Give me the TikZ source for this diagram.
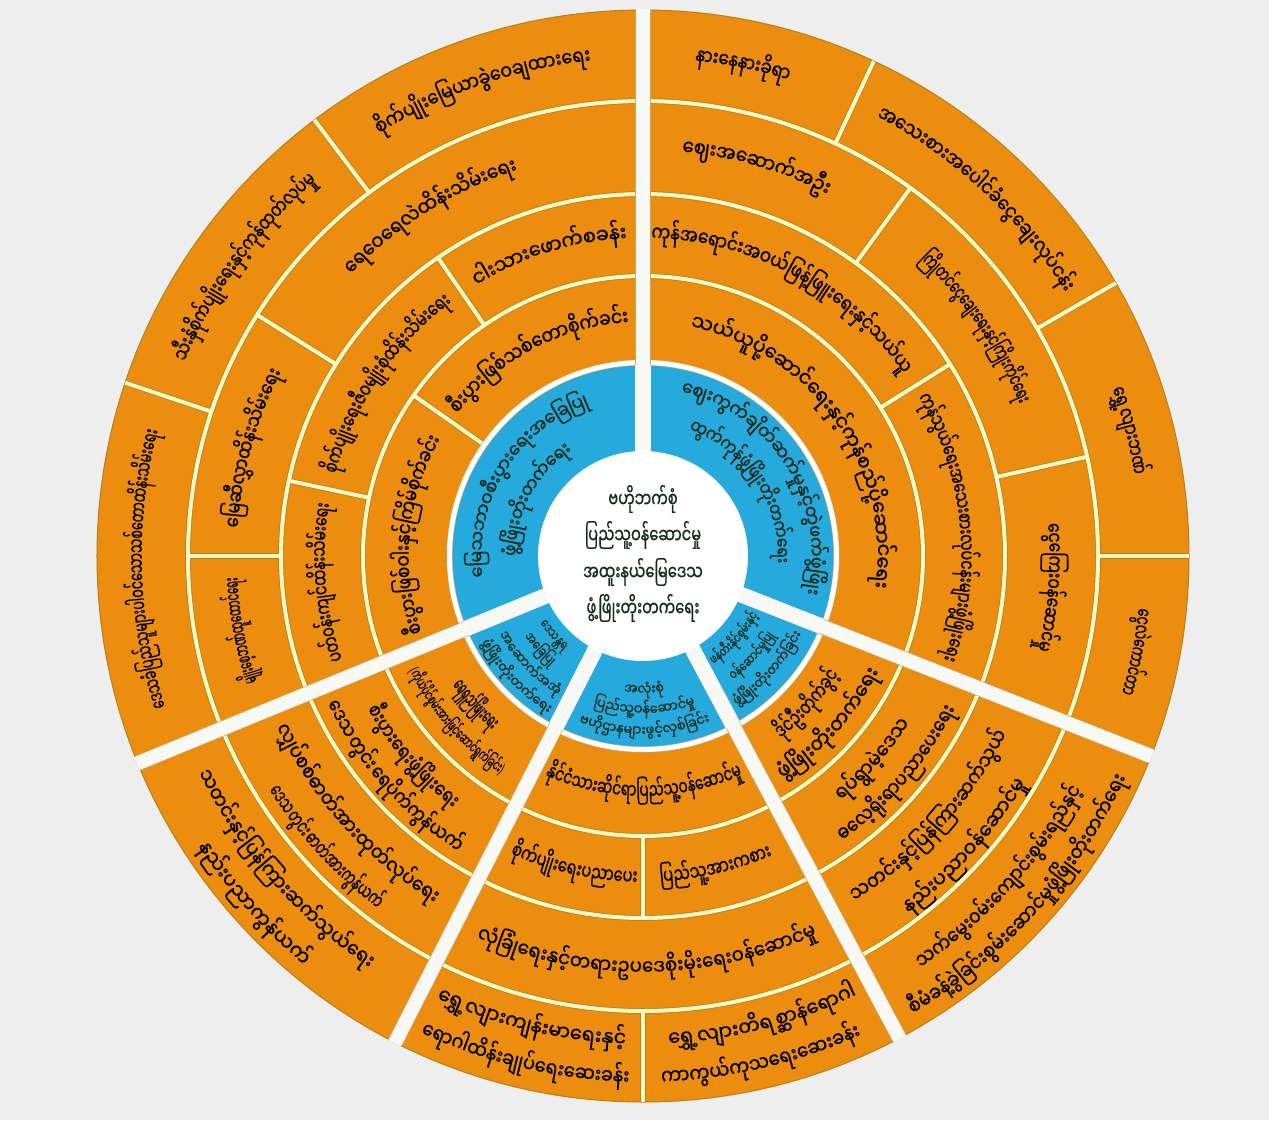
\documentclass[tikz,border=0pt]{standalone}
\usepackage{fontspec}
\newfontfamily\mm[Script=Myanmar,FakeBold=0.9]{Noto Sans Myanmar UI}
\newfontfamily\lat{DejaVu Sans}

\definecolor{bgc}{RGB}{238,238,238}
\definecolor{gapc}{RGB}{248,248,245}
\definecolor{orc}{RGB}{237,141,16}
\definecolor{olc}{RGB}{178,130,22}
\definecolor{pyc}{RGB}{250,248,196}
\definecolor{blc}{RGB}{38,170,222}
\definecolor{dgc}{RGB}{18,45,28}

\newcommand\ot{\mm\fontsize{21}{25}\selectfont\color{black}}
\newcommand\os{\mm\fontsize{16}{19}\selectfont\color{black}}
\newcommand\bt{\mm\fontsize{19}{22}\selectfont\color{dgc}}
\newcommand\bs{\mm\fontsize{14}{17}\selectfont\color{dgc}}
\newcommand\ct{\mm\fontsize{21}{25}\selectfont\color{dgc}}

\newdimen\cwd
\newcommand\getwd[1]{\pgfinterruptpicture\settowidth\cwd{#1}\global\cwd=\cwd\endpgfinterruptpicture}
\newcommand\getht[1]{\pgfinterruptpicture\settoheight\cwd{#1}\global\cwd=\cwd\endpgfinterruptpicture}
% text along an arc: #1 font, #2 radius, #3 start angle, #4 end angle, #5 syllables
\newcommand\arctxt[5]{%
  \gdef\arcsum{0}%
  \foreach \cl in {#5}{%
    \getwd{#1\cl}%
    \pgfmathsetmacro\arcnew{\arcsum+\the\cwd}%
    \global\let\arcsum\arcnew}%
  \pgfmathsetmacro\arcdir{((#3)>(#4)) ? 1 : -1}%
  \pgfmathsetmacro\arcf{min(abs((#3)-(#4))/57.29578*(#2)/\arcsum,0.92)}%
  \pgfmathsetmacro\arcs{((#3)+(#4))/2+(\arcdir)*\arcsum*\arcf/2/(#2)*57.29578}%
  \getht{#1ဝ}%
  \pgfmathsetmacro\arcb{(#2)-(\arcdir)*\the\cwd/2}%
  \gdef\arccum{0}%
  \foreach \cl in {#5}{%
    \getwd{#1\cl}%
    \pgfmathsetmacro\arca{\arcs-(\arcdir)*(\arccum+\the\cwd/2)*\arcf/(#2)*57.29578}%
    \pgfmathsetmacro\arcrot{\arca-(\arcdir)*90}%
    \node[syl,rotate=\arcrot,xscale=\arcf] at (\arca:\arcb) {#1\cl};
    \pgfmathsetmacro\arcnew{\arccum+\the\cwd}%
    \global\let\arccum\arcnew}%
}

% ring lines and short dividers, drawn once for the rim and once for the core
\newcommand\sepnet[1]{%
  \foreach \r in {280,362,455}
    \draw[#1] (0,0) circle (\r);
  \foreach \a/\ra/\rb in {161.5/455/546,127/455/546,148/362/455,180/362/455,
      124.5/280/362,168/280/362,145/191/280,65/455/546,30/455/546,0/455/546,
      54/362/455,12.6/362/455,32/280/362,-90/280/362,-90/455/546}
    \draw[#1] (\a:\ra) -- (\a:\rb);
}

\begin{document}
\begin{tikzpicture}[x=1pt,y=1pt,
    syl/.style={inner sep=0pt,anchor=base},
    mid/.style={xscale=0.7},
    seprim/.style={draw=olc,line width=5.6pt},
    sepcore/.style={draw=pyc,line width=4pt},
    gaprim/.style={draw=olc!70,line width=15.4pt},
    gapcore/.style={draw=gapc,line width=14pt}]
\useasboundingbox (-643,-564) rectangle (626,556);
\fill[bgc] (-643,-564) rectangle (626,556);

% orange rings
\fill[orc] (0,0) circle (546);
\draw[olc,line width=1pt] (0,0) circle (546);
\sepnet{seprim}
\sepnet{sepcore}

% blue ring
\fill[blc] (0,0) circle (191);
\draw[draw=olc!70,line width=0.6pt,double=white,double distance=5pt] (0,0) circle (193.5);

% gaps between the five sectors
\begin{scope}
  \clip (0,0) circle (547);
  \foreach \g in {90,-21.5,-62,-117,-157.7}
    \draw[gaprim] (0,0) -- (\g:570);
  \foreach \g in {90,-21.5,-62,-117,-157.7}
    \draw[gapcore] (0,0) -- (\g:570);
\end{scope}
\begin{scope}
  \clip (0,0) circle (191);
  \foreach \g in {90,-21.5,-62,-117,-157.7}
    \draw[gapc,line width=15.6pt] (0,0) -- (\g:200);
\end{scope}
\fill[white] (0,0) circle (105);

% centre
\node[mid] (ctr1) at (0,57) {\ct ဗဟိုဘက်စုံ};
\node[mid] (ctr2) at (0,21) {\ct ပြည်သူ့ဝန်ဆောင်မှု};
\node[mid] (ctr3) at (0,-16) {\ct အထူးနယ်မြေဒေသ};
\node[mid] (ctr4) at (0,-52) {\ct ဖွံ့ဖြိုးတိုးတက်ရေး};

% blue ring texts
\arctxt{\bt}{165}{195}{102}{မြေ,သ,ဘာ,ဝ,စီး,ပွား,ရေး,အ,ခြေ,ပြု}
\arctxt{\bt}{131}{180}{124}{ဖွံ့,ဖြိုး,တိုး,တက်,ရေး}
\arctxt{\bt}{172}{77}{-13}{ဈေး,ကွက်,ချိတ်,ဆက်,မှု,နှင့်,တွဲ,ဖက်,ဖွံ့,ဖြိုး}
\arctxt{\bt}{138}{70}{-3}{ထွက်,ကုန်,ဖွံ့,ဖြိုး,တိုး,တက်,ရေး}
\arctxt{\bs}{126}{-57}{-27}{ဖန်,တီး,နိုင်,စွမ်း,နှင့်}
\arctxt{\bs}{150}{-54}{-31}{ဝန်,ဆောင်,မှု,ပြု}
\arctxt{\bs}{173}{-58}{-26}{ဖွံ့,ဖြိုး,တိုး,တက်,ခြင်း}
\arctxt{\bs}{134}{-98}{-81}{အ,လုံး,စုံ}
\arctxt{\bs}{154}{-112}{-67}{ပြည်,သူ့,ဝန်,ဆောင်,မှု}
\arctxt{\bs}{175}{-114}{-65}{ဗ,ဟို,ဌာ,န,များ,ဖွင့်,လှစ်,ခြင်း}
\arctxt{\bs}{120}{-147}{-130}{ဒေ,သ,န္တ,ရ}
\arctxt{\bs}{140}{-146}{-130}{အ,ခြေ,ပြု}
\arctxt{\bs}{160}{-152}{-121}{အ,ဆောက်,အ,အုံ}
\arctxt{\bs}{180}{-153}{-120}{ဖွံ့,ဖြိုး,တိုး,တက်,ရေး}

% upper left sector
\arctxt{\ot}{505}{197.5}{165.5}{ဒေ,သ,ခံ,ပြည်,သူ,များ,ပါ,ဝင်,သော,သစ်,တော,ထိန်း,သိမ်း,ရေး}
\arctxt{\ot}{502}{157}{131}{သီး,နှံ,စိုက်,ပျိုး,ရေး,နှင့်,ကုန်,ထုတ်,လုပ်,မှု}
\arctxt{\ot}{502}{122}{96}{စိုက်,ပျိုး,မြေ,ယာ,ခွဲ,ဝေ,ချ,ထား,ရေး}
\arctxt{\ot}{410}{136}{108}{ရေ,ဝေ,ရေ,လဲ,ထိန်း,သိမ်း,ရေး}
\arctxt{\ot}{410}{176}{153}{မြေ,ဆီ,လွှာ,ထိန်း,သိမ်း,ရေး}
\arctxt{\ot}{410}{198}{183}{မျိုး,စေ့,ဘဏ်,ထူ,ထောင်,ရေး}
\arctxt{\ot}{322}{122}{92.5}{ငါး,သား,ဖောက်,စ,ခန်း}
\arctxt{\ot}{322}{165}{127}{စိုက်,ပျိုး,ရေး,ဇီ,ဝ,မျိုး,စုံ,ထိန်း,သိမ်း,ရေး}
\arctxt{\ot}{322}{199}{170.5}{ပတ်,ဝန်း,ကျင်,ထိန်း,သိမ်း,ရေး}
\arctxt{\ot}{238}{142.5}{93.5}{စီး,ပွား,ဖြစ်,သစ်,တော,စိုက်,ခင်း}
\arctxt{\ot}{238}{199}{150}{စီး,ပွား,ဖြစ်,ဝါး,နှင့်,ကြိမ်,စိုက်,ခင်း}

% right sector
\arctxt{\ot}{502}{84}{73}{နား,နေ,နား,ခို,ရာ}
\arctxt{\ot}{502}{62}{32}{အ,သေး,စား,အ,ပေါင်,ခံ,ငွေ,ချေး,လုပ်,ငန်း}
\arctxt{\ot}{502}{19.6}{9.4}{ရွှေ့,လျား,ဘဏ်}
\arctxt{\ot}{502}{-6}{-16}{ငွေ,လဲ,ကောင်,တာ}
\arctxt{\ot}{410}{84.5}{63}{ဈေး,အ,ဆောက်,အ,ဦး}
\arctxt{\ot}{410}{47}{22}{ကြို,တင်,ငွေ,ချေး,ရေး,နှင့်,ကြိုး,ကိုင်,ရေး}
\arctxt{\ot}{410}{4.6}{-13.4}{ငွေ,ကြေး,ဝန်,ဆောင်,မှု}
\arctxt{\ot}{322}{88.5}{35}{ကုန်,အ,ရောင်း,အ,ဝယ်,ဖြန့်,ဖြူး,ရေး,နှင့်,သယ်,ယူ}
\arctxt{\ot}{322}{30}{-19}{ကုန်,သွယ်,ရေး,အ,သေး,စား,လုပ်,ငန်း,များ,ဖွံ့,ဖြိုး,ရေး}
\arctxt{\ot}{238}{79}{-8.5}{သယ်,ယူ,ပို့,ဆောင်,ရေး,နှင့်,ကုန်,စည်,ပို့,ဆောင်,ရေး}

% lower right sector
\arctxt{\ot}{224}{-53}{-31}{ဒိုင်,ဦး,တိုက်,ခွင့်}
\arctxt{\ot}{258}{-58}{-26}{ဖွံ့,ဖြိုး,တိုး,တက်,ရေး}
\arctxt{\ot}{310}{-51}{-32}{ရပ်,ရွာ,မဲ့,ဒေ,သ}
\arctxt{\ot}{343}{-55}{-26}{ဓ,လေ့,ရိုး,ရာ,ပ,ညာ,ပေး,ရေး}
\arctxt{\ot}{400}{-58.5}{-26}{သ,တင်း,နှင့်,ပြန်,ကြား,ဆက်,သွယ်}
\arctxt{\ot}{440}{-54}{-30}{နည်း,ပ,ညာ,ဝန်,ဆောင်,မှု}
\arctxt{\ot}{492}{-56}{-28}{သက်,မွေး,ဝမ်း,ကျောင်း,စွမ်း,ရည်,နှင့်}
\arctxt{\ot}{527}{-59.5}{-24.6}{စီ,မံ,ခန့်,ခွဲ,ခြင်း,စွမ်း,ဆောင်,မှု,ဖွံ့,ဖြိုး,တိုး,တက်,ရေး}

% bottom sector
\arctxt{\ot}{236}{-114}{-65.5}{နိုင်,ငံ,သား,ဆိုင်,ရာ,ပြည်,သူ့,ဝန်,ဆောင်,မှု}
\arctxt{\ot}{322}{-114}{-91}{စိုက်,ပျိုး,ရေး,ပ,ညာ,ပေး}
\arctxt{\ot}{322}{-87}{-66.6}{ပြည်,သူ့,အား,က,စား}
\arctxt{\ot}{412}{-113.6}{-65.3}{လုံ,ခြုံ,ရေး,နှင့်,တ,ရား,ဥ,ပ,ဒေ,စိုး,မိုး,ရေး,ဝန်,ဆောင်,မှု}
\arctxt{\ot}{484}{-115}{-92}{ရွှေ့,လျား,ကျန်း,မာ,ရေး,နှင့်}
\arctxt{\ot}{522}{-115}{-91.5}{ရော,ဂါ,ထိန်း,ချုပ်,ရေး,ဆေး,ခန်း}
\arctxt{\ot}{484}{-87}{-64}{ရွှေ့,လျား,တိ,ရစ္ဆာန်,ရော,ဂါ}
\arctxt{\ot}{522}{-88}{-65.5}{ကာ,ကွယ်,ကု,သ,ရေး,ဆေး,ခန်း}

% lower left sector
\arctxt{\ot}{226}{-146}{-131}{ရေ,ရှည်,ဖြိုး,ရေး}
\arctxt{\os}{257}{-154}{-123}{{\lat(}ကိုယ်,ပိုင်,စွမ်း,အား,ဖြင့်,ဆောင်,ရွက်,ခြင်း{\lat)}}
\arctxt{\ot}{311}{-151}{-127}{စီး,ပွား,ရေး,ဖွံ့,ဖြိုး,ရေး}
\arctxt{\ot}{344}{-155}{-122}{ဒေ,သ,တွင်း\ ,ရေ,ပိုက်,ကွန်,ယက်}
\arctxt{\ot}{400}{-155}{-121}{လျှပ်,စစ်,ဓာတ်,အား,ထုတ်,လုပ်,ရေး}
\arctxt{\ot}{437}{-148}{-127}{ဒေ,သ,တွင်း\ ,ဓာတ်,အား,ကွန်,ယက်}
\arctxt{\ot}{490}{-154}{-123.6}{သ,တင်း,နှင့်,ပြန်,ကြား,ဆက်,သွယ်,ရေး}
\arctxt{\ot}{527}{-147.5}{-129}{နည်း,ပ,ညာ,ကွန်,ယက်}
\end{tikzpicture}
\end{document}
